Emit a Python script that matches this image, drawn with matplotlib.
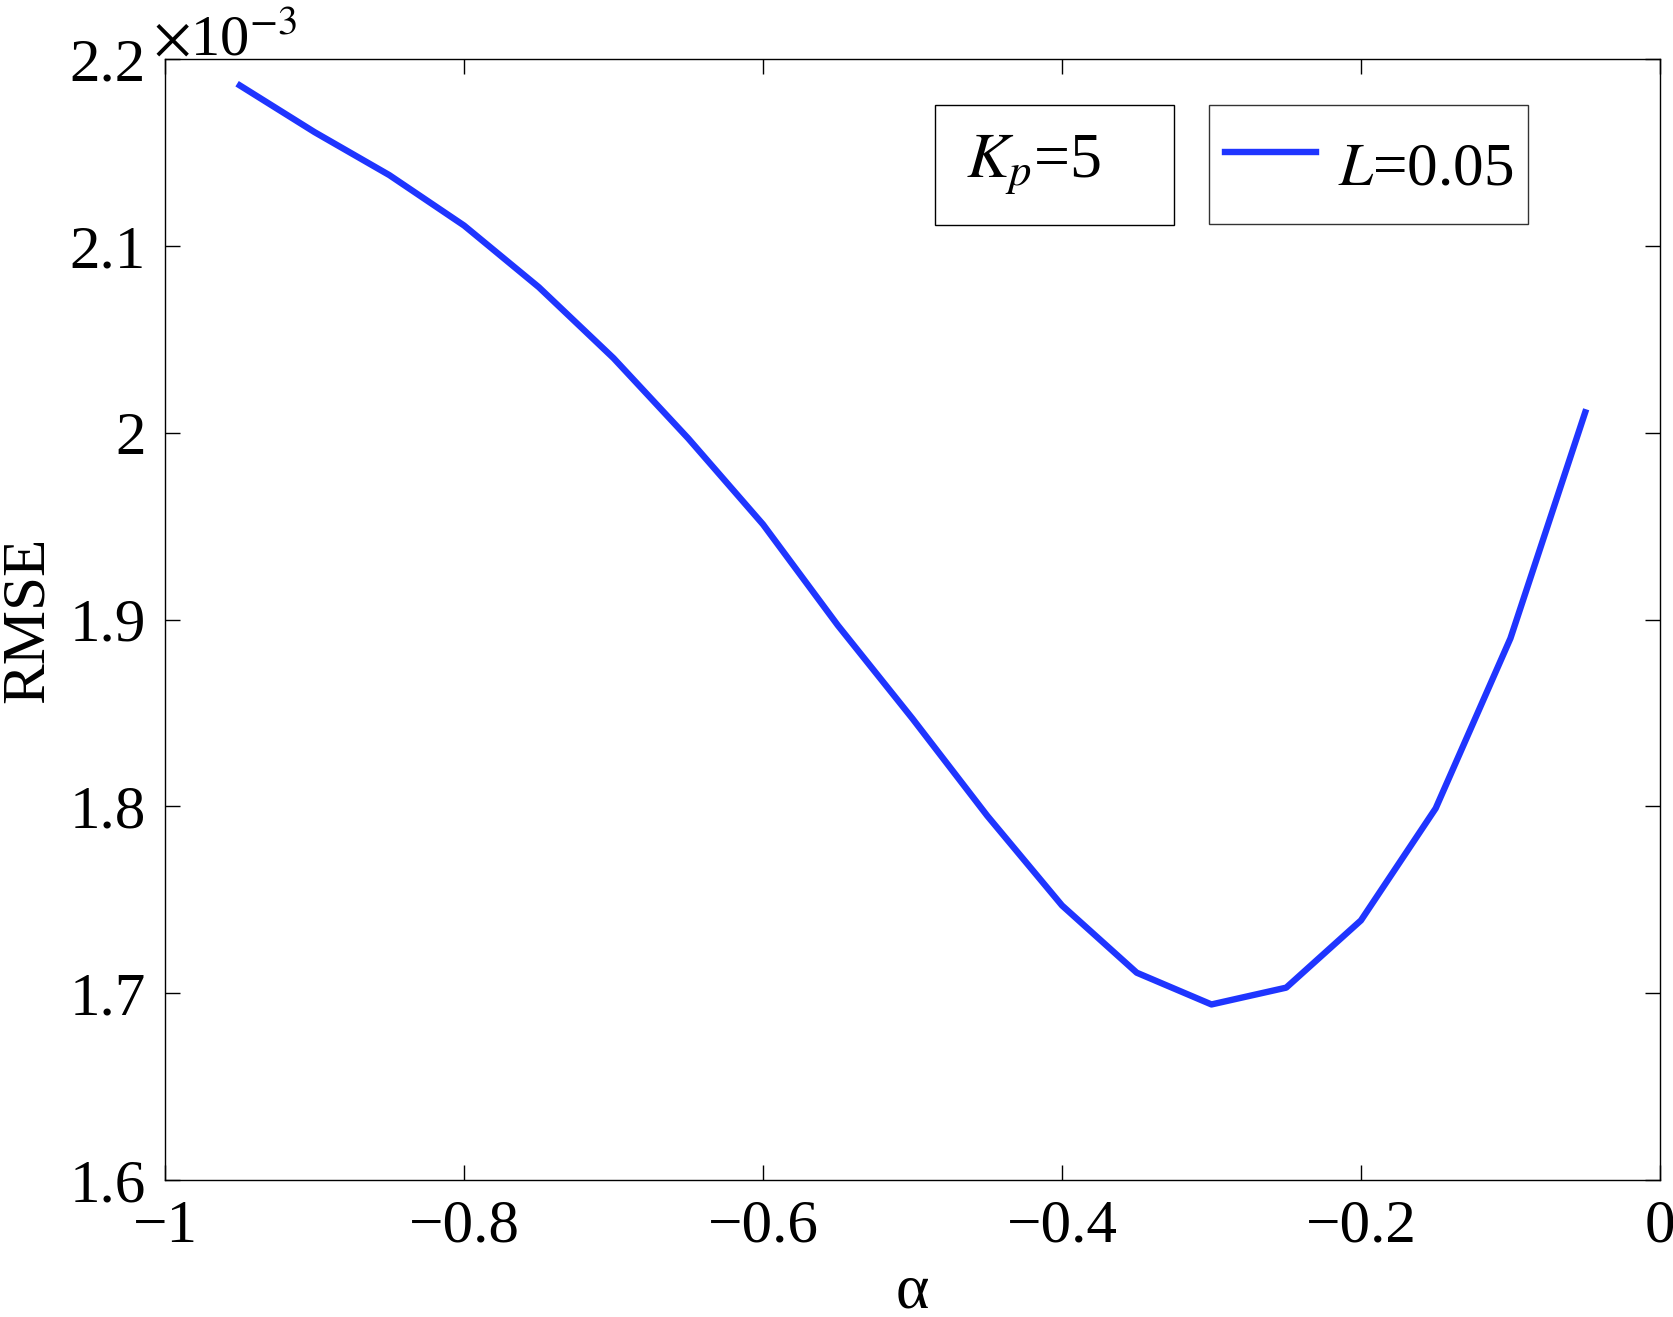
import numpy as np
import matplotlib.pyplot as plt
from matplotlib.ticker import FuncFormatter
from matplotlib.patches import Rectangle

# data
alpha = [-0.95, -0.90, -0.85, -0.80, -0.75, -0.70, -0.65, -0.60, -0.55, -0.50,
         -0.45, -0.40, -0.35, -0.30, -0.25, -0.20, -0.15, -0.10, -0.05]
rmse = [2.186, 2.161, 2.138, 2.111, 2.078, 2.040, 1.997, 1.951, 1.897, 1.847,
        1.795, 1.747, 1.711, 1.694, 1.703, 1.739, 1.799, 1.890, 2.011]
rmse = [v * 1e-3 for v in rmse]

xticks = [-1, -0.8, -0.6, -0.4, -0.2, 0]
xticklabels = ["\u22121", "\u22120.8", "\u22120.6", "\u22120.4", "\u22120.2", "0"]
yticks = [1.6e-3, 1.7e-3, 1.8e-3, 1.9e-3, 2.0e-3, 2.1e-3, 2.2e-3]

plt.rcParams['font.family'] = ['Liberation Serif', 'DejaVu Serif']
plt.rcParams['mathtext.fontset'] = 'stix'

fig = plt.figure(figsize=(16.74, 13.17), dpi=100)
ax = fig.add_axes([0.0986, 0.104, 0.893, 0.851])

ax.plot(alpha, rmse, color='#1f35ff', lw=4.6, label='$L$=0.05')

ax.set_xlim(-1, 0)
ax.set_ylim(1.6e-3, 2.2e-3)
ax.set_xticks(xticks)
ax.set_xticklabels(xticklabels)
ax.set_yticks(yticks)
ax.yaxis.set_major_formatter(FuncFormatter(lambda v, _: f"{v * 1e3:g}"))

# multiplier text (MATLAB style) above the top-left corner
ax.text(-0.008, 0.993, r'$\times\mathregular{10}^{-3}$', transform=ax.transAxes,
        fontsize=42, ha='left', va='bottom')

ax.tick_params(direction='in', length=11, width=1, labelsize=44,
               top=True, right=True, pad=14)
for s in ax.spines.values():
    s.set_linewidth(1)

ax.set_xlabel('\u03b1', fontsize=46, labelpad=6)
ax.set_ylabel('RMSE', fontsize=44, labelpad=10)

leg = ax.legend(loc='upper right', bbox_to_anchor=(0.912, 0.959), borderaxespad=0,
                fontsize=44, frameon=True, fancybox=False, edgecolor='black',
                handlelength=1.5, handleheight=1.85, borderpad=0.25,
                handletextpad=0.35)
leg.get_frame().set_linewidth(1)

# separate box holding the K_p annotation
ax.add_patch(Rectangle((0.515, 0.852), 0.16, 0.107, transform=ax.transAxes,
                       fc='white', ec='black', lw=1, zorder=5))
ax.text(0.536, 0.906, '$K_p$=5', transform=ax.transAxes, fontsize=46,
        ha='left', va='center', zorder=6)

fig.savefig('out.png', dpi=100)
